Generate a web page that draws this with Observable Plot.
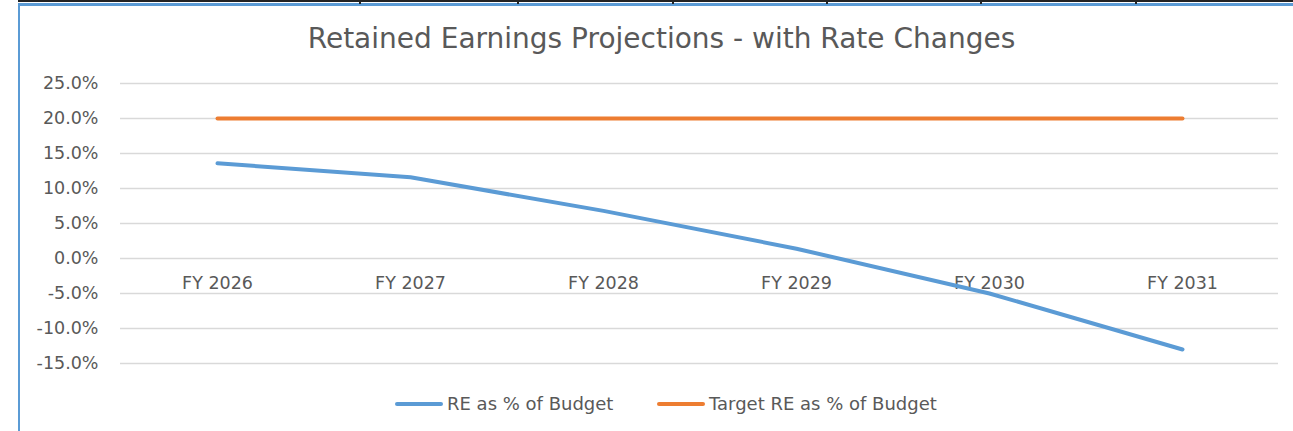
<!DOCTYPE html>
<html>
<head>
<meta charset="utf-8">
<script src="https://cdn.jsdelivr.net/npm/d3@7"></script>
<script src="https://cdn.jsdelivr.net/npm/@observablehq/plot@0.6"></script>
<style>
  html, body { margin: 0; padding: 0; background: #fff; }
  #wrap { position: relative; width: 1293px; height: 431px; overflow: hidden; font-family: "DejaVu Sans", sans-serif; }
  #chart { position: absolute; left: 0; top: 0; }
  #title { position: absolute; left: 0; width: 1323px; top: 22px; text-align: center; font-size: 28px; color: #595959; white-space: nowrap; }
  #legend { position: absolute; top: 393px; left: 0; width: 1293px; font-size: 18px; color: #595959; }
  .item { position: absolute; display: flex; align-items: center; white-space: nowrap; }
  .sw { width: 48px; height: 4px; border-radius: 2px; margin-right: 4px; }
  .topblack { position: absolute; left: 18px; right: 0; top: 0; height: 2px; background: #222; }
  .topblue { position: absolute; left: 18px; right: 0; top: 3px; height: 3px; background: #5B9BD5; }
  .leftblue { position: absolute; left: 18px; top: 3px; bottom: 0; width: 2px; background: #5B9BD5; }
  .tick { position: absolute; top: 0; width: 1.5px; height: 4px; background: #222; }
</style>
</head>
<body>
<div id="wrap">
  <div id="chart"></div>
  <div class="topblack"></div>
  <div class="topblue"></div>
  <div class="leftblue"></div>
  <div id="title"></div>
  <div id="legend"></div>
</div>
<script>
const categories = ["FY 2026", "FY 2027", "FY 2028", "FY 2029", "FY 2030", "FY 2031"];
const reValues = [13.6, 11.6, 6.8, 1.4, -5.0, -13.0];
const targetValues = [20, 20, 20, 20, 20, 20];
const yTicks = [-15, -10, -5, 0, 5, 10, 15, 20, 25];
const seriesNames = ["RE as % of Budget", "Target RE as % of Budget"];
const seriesColors = ["#5B9BD5", "#ED7D31"];
const titleText = "Retained Earnings Projections - with Rate Changes";
const topTickXs = [359, 517, 672, 826, 980, 1135];

const reData = categories.map((c, i) => ({cat: c, v: reValues[i]}));
const targetData = categories.map((c, i) => ({cat: c, v: targetValues[i]}));

const chart = Plot.plot({
  width: 1293,
  height: 431,
  marginTop: 83,
  marginBottom: 68,
  marginLeft: 120,
  marginRight: 15,
  style: {fontFamily: "DejaVu Sans, sans-serif", fontSize: "17.5px", color: "#595959", background: "transparent"},
  x: {type: "point", domain: categories, padding: 0.5, axis: null},
  y: {domain: [-15, 25], axis: null},
  marks: [
    Plot.gridY(yTicks, {stroke: "#d9d9d9", strokeOpacity: 1, strokeWidth: 1.4}),
    Plot.axisY(yTicks, {tickSize: 0, tickPadding: 22, tickFormat: d => d.toFixed(1) + "%", fill: "#595959", fontSize: 17.5, label: null}),
    Plot.text(categories, {x: d => d, y: 0, dy: 25, text: d => d, fill: "#595959", fontSize: 17.5}),
    Plot.line(targetData, {x: "cat", y: "v", stroke: seriesColors[1], strokeWidth: 4, strokeLinecap: "round", strokeLinejoin: "round"}),
    Plot.line(reData, {x: "cat", y: "v", stroke: seriesColors[0], strokeWidth: 4, strokeLinecap: "round", strokeLinejoin: "round"})
  ]
});
document.getElementById("chart").appendChild(chart);

document.getElementById("title").textContent = titleText;

const wrap = document.getElementById("wrap");
topTickXs.forEach(x => {
  const t = document.createElement("div");
  t.className = "tick";
  t.style.left = x + "px";
  wrap.appendChild(t);
});

const legend = document.getElementById("legend");
const legendLefts = [395, 657];
seriesNames.forEach((name, i) => {
  const item = document.createElement("div");
  item.className = "item";
  item.style.left = legendLefts[i] + "px";
  const sw = document.createElement("div");
  sw.className = "sw";
  sw.style.background = seriesColors[i];
  const label = document.createElement("span");
  label.textContent = name;
  item.appendChild(sw);
  item.appendChild(label);
  legend.appendChild(item);
});
</script>
</body>
</html>
